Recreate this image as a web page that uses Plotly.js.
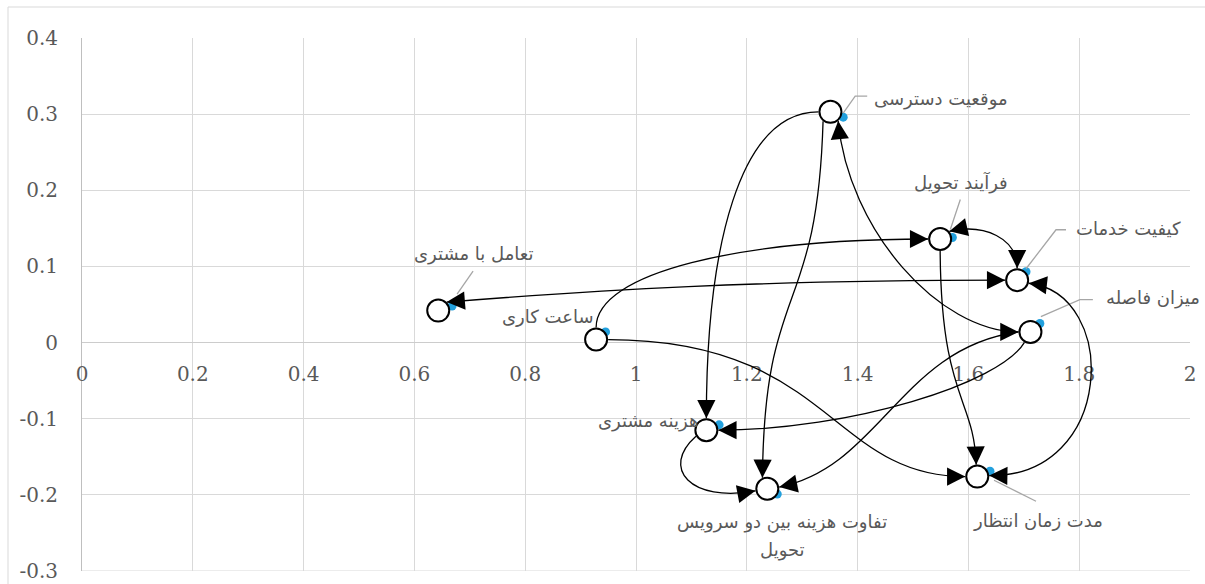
<!DOCTYPE html>
<html><head><meta charset="utf-8">
<script src="https://cdn.plot.ly/plotly-3.0.1.min.js"></script>
<style>body{margin:0;background:#fff}</style>
</head><body><div id="chart" style="width:1205px;height:584px"></div>
<script>
// ---- data ----
const pointLabels = ['تعامل با مشتری','ساعت کاری','موقعیت دسترسی','فرآیند تحویل','کیفیت خدمات','میزان فاصله','هزینه مشتری','تفاوت هزینه بین دو سرویس<br>تحویل','مدت زمان انتظار'];
const xValues = [0.668, 0.945, 1.374, 1.571, 1.704, 1.729, 1.150, 1.255, 1.639];
const yValues = [0.048, 0.014, 0.296, 0.138, 0.093, 0.025, -0.108, -0.199, -0.169];
// hand-drawn white node circles (slightly offset from the points)
const nodeX = [0.643, 0.928, 1.351, 1.549, 1.688, 1.712, 1.127, 1.237, 1.616];
const nodeY = [0.042, 0.004, 0.303, 0.136, 0.082, 0.014, -0.115, -0.192, -0.176];
const xTickVals = [0,0.2,0.4,0.6,0.8,1,1.2,1.4,1.6,1.8,2];
const xTickText = ['0','0.2','0.4','0.6','0.8','1','1.2','1.4','1.6','1.8','2'];
const yTickVals = [-0.3,-0.2,-0.1,0,0.1,0.2,0.3,0.4];
const yTickText = ['-0.3','-0.2','-0.1','0','0.1','0.2','0.3','0.4'];
// connectors: from node, to node, arrow heads
const edgeFrom  = [2,2,2,1,0,3,3,5,5,4,1,6];
const edgeTo    = [6,7,5,3,4,4,8,6,7,8,8,7];
const edgeHeads = ['end','end','both','end','both','both','end','end','end','both','end','end'];

// ---- geometry / style ----
const W=1205,H=584,M={l:82,r:15,t:38,b:13};
const XR=[0,2], YR=[-0.3,0.4];
const PW=W-M.l-M.r, PH=H-M.t-M.b;
const sx=PW/(XR[1]-XR[0]), sy=PH/(YR[1]-YR[0]);
const dx=p=>p/sx, dy=p=>-p/sy;  // pixel offsets (screen, y down) -> data
const R=12;
// per-edge port angles (deg, screen) and bezier handles (px)
const edgeStyle=[
 {a0:180,a1:270,h0:[-79,0],h1:[0,-171]},
 {a0:128,a1:246,h0:[-6,200],h1:[2,-200]},
 {a0:50,a1:180,h0:[10,109],h1:[-79,0]},
 {a0:270,a1:180,h0:[0,-55],h1:[-188,0]},
 {a0:-45,a1:180,h0:[150,-12],h1:[-250,0]},
 {a0:-40,a1:270,h0:[35,-8],h1:[0,-30]},
 {a0:90,a1:265,h0:[1,148],h1:[-2,-67]},
 {a0:120,a1:0,h0:[-24,41],h1:[132,0]},
 {a0:180,a1:-8,h0:[-118,16],h1:[101,-20]},
 {a0:15,a1:-5,h0:[91,10],h1:[126,2]},
 {a0:0,a1:180,h0:[222,0],h1:[-135,0]},
 {a0:150,a1:170,h0:[-36,32],h1:[-65,12]}
];
const labelShift=[[22,52],[-58,15],[98,18],[9,55],[102,43],[113,26],[-71,4],[5,-42],[48,-49]];
const lineGap=28;
const leaders={0:[[5,-12],[21,-35]],2:[[0,-4],[12,-21],[24,-21]],3:[[-2,-8],[8,-38]],4:[[0,-3],[30,-42],[40,-42]],5:[[1,-7],[40,-24],[53,-24]],8:[[4,9],[46,30]]};

const shapes=[], annotations=[];
// chart border
shapes.push({type:'rect',xref:'paper',yref:'paper',x0:(8-M.l)/PW,x1:1.05,y0:-0.1,y1:1+(M.t-7)/PH,line:{color:'#d9d9d9',width:1},fillcolor:'rgba(0,0,0,0)',layer:'below'});
// bottom edge of plot area (grid line at -0.3)
shapes.push({type:'line',xref:'paper',yref:'y',x0:0,x1:1,y0:YR[0],y1:YR[0],line:{color:'#d9d9d9',width:1},layer:'below'});
// leader lines
Object.keys(leaders).forEach(k=>{
  const i=+k, pts=leaders[k];
  const d=pts.map((p,j)=>(j?'L':'M')+(xValues[i]+dx(p[0]))+','+(yValues[i]+dy(p[1]))).join(' ');
  shapes.push({type:'path',xref:'x',yref:'y',path:d,line:{color:'#a6a6a6',width:1.3}});
});
// connectors
function port(n,a){const r=a*Math.PI/180;return [nodeX[n]+dx(R*Math.cos(r)),nodeY[n]+dy(R*Math.sin(r))];}
function head(tip,prev){ // pixel direction
  const vx=(tip[0]-prev[0])*sx, vy=-(tip[1]-prev[1])*sy; const L=Math.hypot(vx,vy)||1;
  annotations.push({x:tip[0],y:tip[1],xref:'x',yref:'y',text:'',showarrow:true,arrowhead:2,arrowsize:2.8,arrowwidth:1.3,arrowcolor:'#000',standoff:0,ax:-vx/L*18,ay:-vy/L*18});
}
edgeFrom.forEach((f,e)=>{
  const t=edgeTo[e], st=edgeStyle[e];
  const P0=port(f,st.a0), P3=port(t,st.a1);
  const P1=[P0[0]+dx(st.h0[0]),P0[1]+dy(st.h0[1])], P2=[P3[0]+dx(st.h1[0]),P3[1]+dy(st.h1[1])];
  shapes.push({type:'path',xref:'x',yref:'y',path:`M${P0[0]},${P0[1]} C${P1[0]},${P1[1]} ${P2[0]},${P2[1]} ${P3[0]},${P3[1]}`,line:{color:'#000',width:1.3}});
  head(P3,P2); if(edgeHeads[e]==='both') head(P0,P1);
});
// node circles
nodeX.forEach((x,i)=>shapes.push({type:'circle',xref:'x',yref:'y',xsizemode:'pixel',ysizemode:'pixel',xanchor:x,yanchor:nodeY[i],x0:-11,x1:11,y0:-11,y1:11,fillcolor:'#fff',line:{color:'#000',width:2}}));
// labels (one annotation per text line to reproduce the wider line spacing)
pointLabels.forEach((s,i)=>{
  const lines=s.split('<br>'), n=lines.length;
  lines.forEach((ln,k)=>annotations.push({x:xValues[i],y:yValues[i],xref:'x',yref:'y',text:ln,showarrow:false,
    xshift:labelShift[i][0],yshift:labelShift[i][1]+((n-1)/2-k)*lineGap,font:{family:'DejaVu Sans',size:18,color:'#595959'}}));
});

const trace={type:'scatter',mode:'markers',x:xValues,y:yValues,marker:{color:'#22a0dd',size:9},hoverinfo:'skip',cliponaxis:false};
const axFont={family:'DejaVu Serif',size:20,color:'#595959'};
const layout={width:W,height:H,margin:M,paper_bgcolor:'#fff',plot_bgcolor:'#fff',showlegend:false,
 xaxis:{range:XR,tickvals:xTickVals,ticktext:xTickText,anchor:'free',position:(0-YR[0])/(YR[1]-YR[0]),showgrid:true,gridcolor:'#d9d9d9',gridwidth:1,zeroline:false,showline:false,ticks:'',tickfont:axFont,ticklabelstandoff:17,ticklabeloverflow:'allow',fixedrange:true},
 yaxis:{range:YR,tickvals:yTickVals,ticktext:yTickText,showgrid:true,gridcolor:'#d9d9d9',gridwidth:1,zeroline:true,zerolinecolor:'#cccccc',zerolinewidth:1,showline:true,linecolor:'#bfbfbf',linewidth:1,ticks:'',tickfont:axFont,ticklabelstandoff:19,ticklabeloverflow:'allow',fixedrange:true},
 shapes:shapes,annotations:annotations};
Plotly.newPlot('chart',[trace],layout,{displayModeBar:false,staticPlot:true});
</script></body></html>
